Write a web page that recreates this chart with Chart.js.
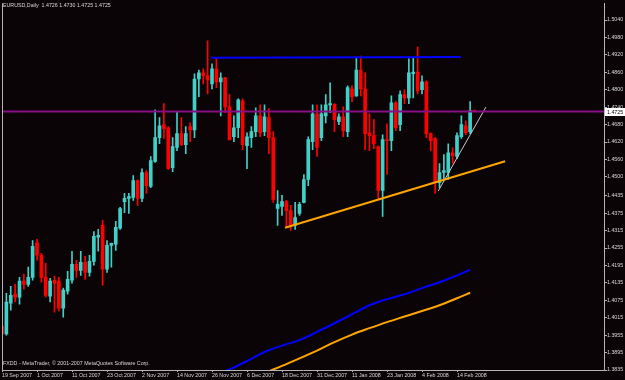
<!DOCTYPE html>
<html>
<head>
<meta charset="utf-8">
<script src="https://cdn.jsdelivr.net/npm/chart.js@4.4.1/dist/chart.umd.min.js"></script>
<style>
  html, body { margin: 0; padding: 0; background: #0b0406; }
</style>
</head>
<body>
<canvas id="chart" width="625" height="380"></canvas>
<script>
// EURUSD daily bars, 19 Sep 2007 .. 20 Feb 2008
const opens = [
  1.3986, 1.3959, 1.4065, 1.4096, 1.4086, 1.4141, 1.4130, 1.4154, 1.4274, 1.4230,
  1.4154, 1.4089, 1.4144, 1.4141, 1.4048, 1.4106, 1.4144, 1.4199, 1.4178, 1.4206,
  1.4171, 1.4209, 1.4292, 1.4333, 1.4182, 1.4264, 1.4268, 1.4323, 1.4415, 1.4426,
  1.4429, 1.4487, 1.4426, 1.4515, 1.4467, 1.4553, 1.4635, 1.4680, 1.4669, 1.4532,
  1.4601, 1.4649, 1.4611, 1.4673, 1.4662, 1.4837, 1.4858, 1.4848, 1.4820, 1.4872,
  1.4827, 1.4841, 1.4741, 1.4638, 1.4669, 1.4762, 1.4607, 1.4635, 1.4656, 1.4710,
  1.4656, 1.4704, 1.4635, 1.4391, 1.4398, 1.4415, 1.4384, 1.4333, 1.4374, 1.4412,
  1.4491, 1.4621, 1.4717, 1.4635, 1.4710, 1.4748, 1.4750, 1.4690, 1.4707, 1.4656,
  1.4803, 1.4779, 1.4868, 1.4803, 1.4652, 1.4642, 1.4604, 1.4453, 1.4628, 1.4625,
  1.4755, 1.4680, 1.4783, 1.4772, 1.4855, 1.4861, 1.4800, 1.4827, 1.4649, 1.4632,
  1.4480, 1.4515, 1.4515, 1.4583, 1.4570, 1.4638, 1.4676, 1.4656, 1.4726
];
const highs = [
  1.3990, 1.4099, 1.4123, 1.4130, 1.4154, 1.4165, 1.4189, 1.4281, 1.4285, 1.4237,
  1.4202, 1.4151, 1.4158, 1.4154, 1.4117, 1.4175, 1.4244, 1.4213, 1.4244, 1.4226,
  1.4230, 1.4312, 1.4319, 1.4350, 1.4281, 1.4272, 1.4347, 1.4395, 1.4443, 1.4443,
  1.4504, 1.4490, 1.4528, 1.4522, 1.4570, 1.4731, 1.4704, 1.4752, 1.4673, 1.4635,
  1.4724, 1.4704, 1.4673, 1.4686, 1.4855, 1.4868, 1.4872, 1.4968, 1.4889, 1.4910,
  1.4858, 1.4843, 1.4783, 1.4710, 1.4769, 1.4769, 1.4652, 1.4673, 1.4738, 1.4748,
  1.4748, 1.4735, 1.4656, 1.4453, 1.4436, 1.4419, 1.4402, 1.4412, 1.4412, 1.4508,
  1.4638, 1.4748, 1.4748, 1.4748, 1.4783, 1.4824, 1.4752, 1.4717, 1.4741, 1.4813,
  1.4813, 1.4910, 1.4916, 1.4858, 1.4717, 1.4697, 1.4607, 1.4645, 1.4683, 1.4779,
  1.4759, 1.4796, 1.4800, 1.4906, 1.4910, 1.4947, 1.4848, 1.4831, 1.4652, 1.4635,
  1.4546, 1.4577, 1.4614, 1.4601, 1.4652, 1.4710, 1.4693, 1.4759, 1.4730
];
const lows = [
  1.3952, 1.3955, 1.4041, 1.4069, 1.4062, 1.4113, 1.4123, 1.4144, 1.4213, 1.4137,
  1.4086, 1.4069, 1.4034, 1.4038, 1.4017, 1.4096, 1.4134, 1.4154, 1.4161, 1.4147,
  1.4158, 1.4196, 1.4244, 1.4127, 1.4171, 1.4189, 1.4247, 1.4319, 1.4377, 1.4374,
  1.4419, 1.4402, 1.4415, 1.4443, 1.4463, 1.4550, 1.4614, 1.4632, 1.4526, 1.4518,
  1.4590, 1.4607, 1.4580, 1.4621, 1.4635, 1.4776, 1.4820, 1.4786, 1.4803, 1.4807,
  1.4710, 1.4721, 1.4626, 1.4621, 1.4635, 1.4594, 1.4528, 1.4601, 1.4638, 1.4638,
  1.4642, 1.4580, 1.4412, 1.4333, 1.4367, 1.4326, 1.4316, 1.4319, 1.4367, 1.4410,
  1.4470, 1.4594, 1.4570, 1.4625, 1.4686, 1.4721, 1.4656, 1.4680, 1.4638, 1.4638,
  1.4759, 1.4777, 1.4779, 1.4594, 1.4590, 1.4597, 1.4426, 1.4364, 1.4508, 1.4590,
  1.4659, 1.4659, 1.4752, 1.4752, 1.4772, 1.4786, 1.4786, 1.4635, 1.4590, 1.4443,
  1.4463, 1.4487, 1.4491, 1.4546, 1.4563, 1.4632, 1.4645, 1.4649, 1.4725
];
const closes = [
  1.3959, 1.4069, 1.4092, 1.4086, 1.4141, 1.4130, 1.4154, 1.4261, 1.4230, 1.4154,
  1.4092, 1.4141, 1.4134, 1.4048, 1.4110, 1.4147, 1.4199, 1.4178, 1.4206, 1.4171,
  1.4209, 1.4295, 1.4299, 1.4182, 1.4264, 1.4271, 1.4326, 1.4391, 1.4426, 1.4432,
  1.4487, 1.4426, 1.4515, 1.4470, 1.4556, 1.4635, 1.4676, 1.4666, 1.4528, 1.4604,
  1.4649, 1.4611, 1.4649, 1.4662, 1.4837, 1.4858, 1.4848, 1.4834, 1.4872, 1.4827,
  1.4841, 1.4741, 1.4628, 1.4669, 1.4765, 1.4611, 1.4638, 1.4656, 1.4710, 1.4652,
  1.4707, 1.4635, 1.4422, 1.4405, 1.4415, 1.4384, 1.4333, 1.4360, 1.4405, 1.4491,
  1.4628, 1.4717, 1.4601, 1.4717, 1.4748, 1.4752, 1.4697, 1.4707, 1.4659, 1.4807,
  1.4776, 1.4868, 1.4803, 1.4649, 1.4642, 1.4614, 1.4453, 1.4628, 1.4625, 1.4755,
  1.4669, 1.4783, 1.4772, 1.4858, 1.4861, 1.4796, 1.4827, 1.4649, 1.4625, 1.4480,
  1.4515, 1.4522, 1.4583, 1.4573, 1.4642, 1.4680, 1.4652, 1.4728, 1.4725
];

// date labels every 8 bars
const tickBars = [0, 8, 16, 24, 32, 40, 48, 56, 64, 72, 80, 88, 96, 104];
const tickDates = ['19 Sep 2007', '1 Oct 2007', '11 Oct 2007', '23 Oct 2007', '2 Nov 2007',
  '14 Nov 2007', '26 Nov 2007', '6 Dec 2007', '18 Dec 2007', '31 Dec 2007',
  '11 Jan 2008', '23 Jan 2008', '4 Feb 2008', '14 Feb 2008'];
const priceTicks = [1.5040, 1.4980, 1.4920, 1.4860, 1.4800, 1.4740, 1.4680, 1.4620, 1.4560,
  1.4500, 1.4435, 1.4375, 1.4315, 1.4255, 1.4195, 1.4135, 1.4075, 1.4015, 1.3955, 1.3895, 1.3835];

// moving averages, sampled every 4 bars
const maBars = [48, 52, 56, 60, 64, 68, 72, 76, 80, 84, 88, 92, 96, 100, 104, 107];
const maBlue = [1.3812, 1.3837, 1.3866, 1.3897, 1.3919, 1.3938, 1.3966, 1.3996, 1.4027,
  1.4058, 1.4079, 1.4096, 1.4117, 1.4137, 1.4161, 1.4180];
const maOrange = [null, null, null, 1.3825, 1.3849, 1.3875, 1.3902, 1.3931, 1.3957,
  1.3979, 1.4000, 1.4019, 1.4038, 1.4058, 1.4082, 1.4101];

// drawn objects: [bar, price] pairs
const resistance = [[47.8, 1.4910], [104.9, 1.4913]];
const supportLine = [[64.7, 1.4325], [115.0, 1.4554]];
const steepLine = [[99.7, 1.4451], [110.6, 1.4740]];

const symbol = 'EURUSD,Daily';
const footer = 'FXDD - MetaTrader, \u00a9 2001-2007 MetaQuotes Software Corp.';

const BG = '#0b0406';
const UP = '#40d0c8';
const DOWN = '#ff0000';
const FG = '#d8d8d8';
const AXIS = '#b4b4b4';
const FONT = '"Liberation Sans", Arial, sans-serif';

const last = opens.length - 1;
const lastClose = closes[last];
const barIdx = opens.map((_, i) => i);
const candleColors = barIdx.map(i => closes[i] >= opens[i] ? UP : DOWN);
const toPts = arr => arr.map(p => ({ x: p[0], y: p[1] }));

const overlay = {
    id: 'overlay',
    beforeDraw(chart) {
        const ctx = chart.ctx;
        ctx.save();
        ctx.fillStyle = BG;
        ctx.fillRect(0, 0, chart.width, chart.height);
        ctx.restore();
    },
    afterDraw(chart) {
        const { ctx, chartArea: a } = chart;
        const y = chart.scales.y;
        ctx.save();
        ctx.strokeStyle = AXIS;
        ctx.lineWidth = 1;
        ctx.beginPath();
        ctx.moveTo(a.left + 0.5, a.top);
        ctx.lineTo(a.left + 0.5, a.bottom);
        ctx.stroke();

        ctx.font = '5.3px ' + FONT;
        ctx.fillStyle = FG;
        ctx.textBaseline = 'middle';
        const ohlc = [opens[last], highs[last], lows[last], closes[last]].map(v => v.toFixed(4)).join(' ');
        ctx.fillText(symbol + '  ' + ohlc, 3, 6);
        ctx.fillText(footer, 3, 364);

        // current price tag on the axis
        const py = Math.round(y.getPixelForValue(lastClose));
        ctx.fillStyle = '#ffffff';
        ctx.fillRect(a.right + 1, py - 4, 20, 8);
        ctx.fillStyle = '#000000';
        ctx.fillText(lastClose.toFixed(4), a.right + 3, py + 0.5);
        ctx.restore();
    }
};

const xMax = 137.6;

new Chart(document.getElementById('chart'), {
    type: 'bar',
    data: {
        datasets: [
            {
                label: 'wick',
                data: barIdx.map(i => ({ x: i, y: [lows[i], highs[i]] })),
                backgroundColor: candleColors,
                barThickness: 1,
                grouped: false,
                order: 2
            },
            {
                label: 'body',
                data: barIdx.map(i => ({ x: i, y: [opens[i], closes[i]] })),
                backgroundColor: candleColors,
                barThickness: 3,
                minBarLength: 1,
                grouped: false,
                order: 1
            },
            {
                type: 'line',
                label: 'bid',
                data: [{ x: 0, y: lastClose }, { x: xMax, y: lastClose }],
                borderColor: '#860f86',
                borderWidth: 2,
                pointRadius: 0,
                order: 0
            },
            {
                type: 'line',
                label: 'MA blue',
                data: maBars.map((b, k) => ({ x: b, y: maBlue[k] })),
                borderColor: '#0000ff',
                borderWidth: 2,
                pointRadius: 0,
                cubicInterpolationMode: 'monotone',
                order: 0
            },
            {
                type: 'line',
                label: 'MA orange',
                data: maBars.map((b, k) => ({ x: b, y: maOrange[k] })),
                borderColor: '#ffa500',
                borderWidth: 2,
                pointRadius: 0,
                cubicInterpolationMode: 'monotone',
                order: 0
            },
            {
                type: 'line',
                label: 'resistance',
                data: toPts(resistance),
                borderColor: '#0000ff',
                borderWidth: 2,
                pointRadius: 0,
                order: 0
            },
            {
                type: 'line',
                label: 'support',
                data: toPts(supportLine),
                borderColor: '#ffa500',
                borderWidth: 2,
                pointRadius: 0,
                order: 0
            },
            {
                type: 'line',
                label: 'steep',
                data: toPts(steepLine),
                borderColor: '#c8c8c8',
                borderWidth: 1,
                pointRadius: 0,
                order: 0
            }
        ]
    },
    options: {
        responsive: false,
        animation: false,
        devicePixelRatio: 1,
        layout: { padding: { left: 2, top: 2, right: 0, bottom: 0 } },
        plugins: {
            legend: { display: false },
            tooltip: { enabled: false },
            title: { display: false }
        },
        scales: {
            x: {
                type: 'linear',
                min: 0,
                max: xMax,
                offset: false,
                afterBuildTicks: s => { s.ticks = tickBars.map(v => ({ value: v })); },
                afterFit: s => { s.height = 10; },
                ticks: {
                    autoSkip: false,
                    maxRotation: 0,
                    align: 'start',
                    padding: 0,
                    color: FG,
                    font: { family: FONT, size: 5.3 },
                    callback: v => tickDates[tickBars.indexOf(v)]
                },
                grid: { display: true, drawOnChartArea: false, tickLength: 2, color: AXIS, offset: false },
                border: { display: true, color: AXIS }
            },
            y: {
                type: 'linear',
                position: 'right',
                min: 1.3835,
                max: 1.5098,
                beginAtZero: false,
                afterBuildTicks: s => { s.ticks = priceTicks.map(v => ({ value: v })); },
                afterFit: s => { s.width = 21; },
                ticks: {
                    autoSkip: false,
                    padding: 0,
                    color: FG,
                    font: { family: FONT, size: 5.3 },
                    callback: v => v.toFixed(4)
                },
                grid: { display: true, drawOnChartArea: false, tickLength: 3, color: AXIS },
                border: { display: true, color: AXIS }
            }
        }
    },
    plugins: [overlay]
});
</script>
</body>
</html>
